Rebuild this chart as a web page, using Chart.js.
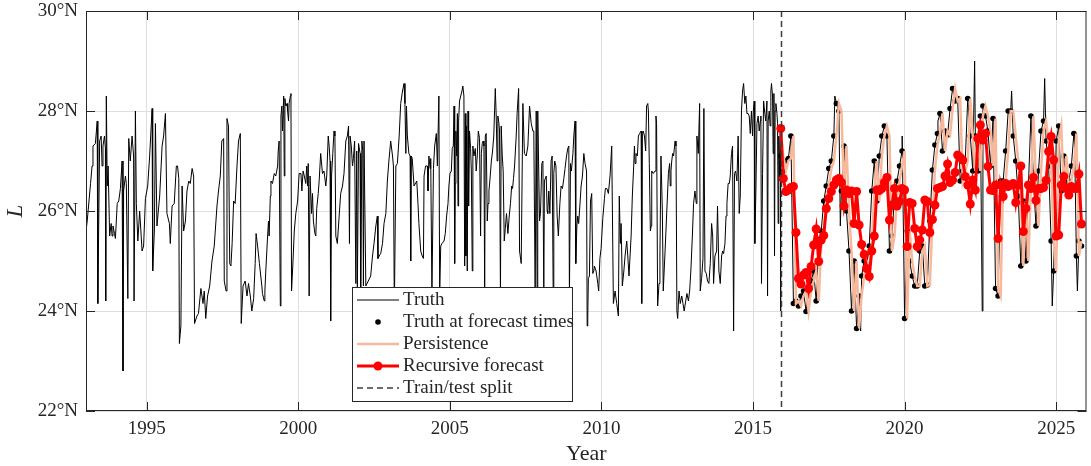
<!DOCTYPE html>
<html>
<head>
<meta charset="utf-8">
<script src="https://cdn.jsdelivr.net/npm/chart.js@4.4.1/dist/chart.umd.min.js"></script>
<style>
  html, body { margin: 0; padding: 0; background: #fff; }
  #wrap { width: 1091px; height: 466px; }
</style>
</head>
<body>
<div id="wrap"><canvas id="chart" width="1091" height="466"></canvas></div>
<script>
// ===== DATA =====
const xTicks = [1995, 2000, 2005, 2010, 2015, 2020, 2025];
const yTicks = [22, 24, 26, 28, 30];
const splitYear = 2015.92;
const fcStart = 2015.917;          // first forecast month, then monthly
const lastTrainTruth = 27.55;      // value persisted into the first forecast month

const legendLabels = ['Truth', 'Truth at forecast times', 'Persistence', 'Recursive forecast', 'Train/test split'];

const truthTrain = [
  [1993.00,25.6],[1993.04,25.8],[1993.15,26.55],[1993.20,26.9],[1993.23,27.3],[1993.31,27.35],[1993.37,27.8],[1993.39,24.15],
  [1993.45,27.4],[1993.50,27.5],[1993.53,26.9],[1993.56,27.3],[1993.61,27.5],[1993.64,27.25],[1993.65,24.2],[1993.67,28.3],
  [1993.70,26.5],[1993.73,26.9],[1993.78,25.5],[1993.83,25.75],[1993.86,25.5],[1993.89,25.7],[1993.94,25.55],[1993.97,25.45],
  [1994.03,26.15],[1994.08,26.2],[1994.135,26.45],[1994.19,27.0],[1994.22,22.8],[1994.24,26.4],[1994.30,26.7],[1994.33,26.55],
  [1994.38,24.25],[1994.41,27.45],[1994.46,27.0],[1994.52,27.5],[1994.57,27.1],[1994.585,24.2],[1994.63,28.0],[1994.66,26.15],
  [1994.71,25.4],[1994.77,26.0],[1994.85,25.2],[1994.90,25.3],[1994.96,26.25],[1995.035,26.5],[1995.10,27.1],[1995.18,28.05],
  [1995.20,24.8],[1995.255,25.6],[1995.29,27.75],[1995.34,25.7],[1995.43,26.3],[1995.51,27.3],[1995.56,27.5],[1995.62,27.95],
  [1995.67,25.95],[1995.75,25.75],[1995.78,25.35],[1995.84,26.1],[1995.91,26.15],[1995.98,26.9],[1996.02,26.9],[1996.06,26.65],
  [1996.08,23.35],[1996.13,23.7],[1996.17,26.5],[1996.22,25.6],[1996.28,25.8],[1996.33,26.4],[1996.39,26.6],[1996.44,26.55],
  [1996.50,26.85],[1996.55,26.7],[1996.58,23.75],[1996.66,23.9],[1996.71,23.95],[1996.79,24.45],[1996.86,24.15],[1996.90,24.4],
  [1996.95,23.85],[1997.01,24.3],[1997.08,24.5],[1997.155,25.0],[1997.23,25.3],[1997.32,26.1],[1997.37,26.4],[1997.43,26.7],
  [1997.48,27.4],[1997.54,27.45],[1997.56,24.6],[1997.62,24.4],[1997.65,27.85],[1997.70,27.7],[1997.74,24.95],[1997.78,24.9],
  [1997.82,25.35],[1997.87,26.2],[1997.92,26.15],[1997.98,26.9],[1998.03,27.4],[1998.09,27.55],[1998.12,23.75],[1998.18,24.5],
  [1998.25,24.6],[1998.31,24.3],[1998.36,24.55],[1998.42,24.3],[1998.47,24.0],[1998.53,24.25],[1998.58,24.95],[1998.61,25.55],
  [1998.66,25.3],[1998.72,24.95],[1998.80,24.5],[1998.82,24.35],[1998.88,24.2],[1998.90,24.4],[1998.93,24.8],[1998.99,25.5],
  [1999.02,25.8],[1999.04,25.5],[1999.08,26.3],[1999.10,26.6],[1999.15,26.55],[1999.21,26.75],[1999.26,26.7],[1999.32,26.9],
  [1999.34,27.2],[1999.37,27.4],[1999.41,24.1],[1999.43,27.9],[1999.46,28.1],[1999.48,27.6],[1999.52,28.3],[1999.54,26.7],
  [1999.56,28.25],[1999.59,28.1],[1999.63,28.15],[1999.65,28.0],[1999.68,27.8],[1999.70,28.15],[1999.74,28.3],[1999.76,28.35],
  [1999.78,24.4],[1999.82,24.9],[1999.87,25.6],[1999.92,25.95],[1999.98,26.2],[2000.03,26.75],[2000.09,26.75],[2000.12,26.4],
  [2000.16,26.8],[2000.20,26.7],[2000.25,26.55],[2000.28,26.9],[2000.31,26.5],[2000.33,26.95],[2000.36,24.3],[2000.39,26.7],
  [2000.44,25.95],[2000.47,26.35],[2000.50,25.8],[2000.55,25.55],[2000.58,25.5],[2000.61,26.05],[2000.66,26.35],[2000.69,26.6],
  [2000.74,27.15],[2000.80,26.75],[2000.85,26.8],[2000.91,26.5],[2000.94,26.7],[2000.99,27.5],[2001.02,27.3],[2001.05,27.0],
  [2001.07,23.8],[2001.10,26.7],[2001.14,27.15],[2001.18,27.6],[2001.21,27.5],[2001.24,25.5],[2001.29,25.35],[2001.35,25.9],
  [2001.40,26.35],[2001.46,26.5],[2001.51,26.75],[2001.57,27.4],[2001.62,27.5],[2001.66,27.7],[2001.69,25.35],[2001.71,27.5],
  [2001.75,27.3],[2001.79,26.9],[2001.82,27.05],[2001.86,27.4],[2001.90,24.55],[2001.93,27.2],[2001.95,24.4],[2001.99,27.35],
  [2002.04,27.15],[2002.06,24.3],[2002.10,27.4],[2002.13,27.2],[2002.15,24.5],[2002.17,27.4],[2002.23,24.5],[2002.39,24.7],
  [2002.45,25.1],[2002.50,25.35],[2002.56,25.7],[2002.61,25.9],[2002.63,25.05],[2002.67,25.1],[2002.72,25.15],[2002.78,25.35],
  [2002.83,25.75],[2002.89,25.95],[2002.94,26.6],[2002.99,27.0],[2003.05,27.4],[2003.11,27.1],[2003.14,26.9],[2003.17,24.0],
  [2003.22,26.9],[2003.27,26.95],[2003.33,27.5],[2003.38,28.15],[2003.44,28.4],[2003.49,28.55],[2003.52,28.15],[2003.55,27.15],
  [2003.57,28.1],[2003.60,27.5],[2003.65,27.15],[2003.69,27.1],[2003.71,25.0],[2003.73,27.1],[2003.76,27.05],[2003.82,26.5],
  [2003.91,26.6],[2003.95,26.15],[2003.98,25.75],[2004.04,25.2],[2004.09,25.1],[2004.13,25.05],[2004.15,26.7],[2004.20,26.9],
  [2004.26,26.9],[2004.28,26.4],[2004.31,27.1],[2004.35,26.85],[2004.37,27.05],[2004.41,24.3],[2004.46,26.85],[2004.50,27.3],
  [2004.555,27.55],[2004.59,26.9],[2004.64,28.3],[2004.665,24.3],[2004.70,25.3],[2004.74,25.35],[2004.81,25.4],[2004.85,25.55],
  [2004.895,25.9],[2004.94,26.15],[2004.97,26.5],[2005.005,26.75],[2005.05,26.8],[2005.08,27.25],[2005.115,27.3],[2005.14,28.1],
  [2005.16,24.95],[2005.18,26.55],[2005.20,27.6],[2005.225,27.1],[2005.25,27.95],[2005.27,26.1],[2005.29,27.8],[2005.32,28.2],
  [2005.36,28.3],[2005.40,28.4],[2005.43,28.5],[2005.465,28.3],[2005.49,24.9],[2005.51,27.95],[2005.53,25.1],[2005.55,27.7],
  [2005.575,24.8],[2005.60,28.0],[2005.62,26.1],[2005.65,27.6],[2005.685,27.25],[2005.71,26.8],[2005.74,24.8],[2005.76,27.3],
  [2005.795,27.1],[2005.84,27.25],[2005.87,26.8],[2005.905,27.1],[2005.94,27.6],[2005.98,27.45],[2006.015,25.5],[2006.04,27.15],
  [2006.07,27.35],[2006.10,27.4],[2006.125,27.3],[2006.15,24.3],[2006.17,27.5],[2006.20,27.55],[2006.235,25.8],[2006.26,26.15],
  [2006.29,26.4],[2006.32,26.6],[2006.37,27.0],[2006.41,27.2],[2006.45,27.5],[2006.50,28.45],[2006.53,27.9],[2006.56,27.0],
  [2006.585,27.9],[2006.62,27.75],[2006.64,27.6],[2006.67,24.3],[2006.695,27.7],[2006.73,27.1],[2006.76,26.8],[2006.795,25.4],
  [2006.83,25.65],[2006.87,25.95],[2006.915,25.55],[2006.96,25.9],[2007.00,26.15],[2007.04,26.5],[2007.07,26.45],[2007.10,26.65],
  [2007.135,26.9],[2007.19,27.5],[2007.22,27.95],[2007.27,28.45],[2007.30,25.2],[2007.355,24.95],[2007.41,28.15],[2007.46,27.15],
  [2007.52,27.1],[2007.575,27.3],[2007.63,28.1],[2007.685,27.75],[2007.74,27.6],[2007.77,27.6],[2007.815,24.3],[2007.85,28.0],
  [2007.88,24.3],[2007.90,28.0],[2007.96,25.8],[2007.99,25.95],[2008.035,26.95],[2008.07,27.0],[2008.10,24.3],[2008.12,26.6],
  [2008.18,26.7],[2008.21,26.0],[2008.23,25.95],[2008.265,26.4],[2008.30,25.95],[2008.34,27.0],[2008.375,27.1],[2008.41,24.3],
  [2008.43,26.75],[2008.46,27.0],[2008.50,26.9],[2008.54,25.9],[2008.58,25.5],[2008.63,26.15],[2008.67,26.5],[2008.715,26.45],
  [2008.76,26.65],[2008.80,26.85],[2008.85,27.1],[2008.89,27.25],[2008.925,27.3],[2008.945,24.3],[2008.98,26.95],[2009.01,26.8],
  [2009.06,27.15],[2009.09,27.5],[2009.13,27.8],[2009.155,24.95],[2009.19,25.7],[2009.22,25.9],[2009.25,25.75],[2009.30,26.2],
  [2009.33,26.5],[2009.375,26.7],[2009.42,27.15],[2009.46,26.95],[2009.51,26.8],[2009.53,23.7],[2009.55,23.9],[2009.57,24.65],
  [2009.605,24.7],[2009.64,26.2],[2009.68,26.35],[2009.715,24.75],[2009.75,24.8],[2009.77,24.9],[2009.825,24.8],[2009.88,24.55],
  [2009.91,24.4],[2009.95,25.05],[2009.99,25.25],[2010.045,25.85],[2010.10,26.25],[2010.13,26.45],[2010.18,26.45],[2010.23,26.35],
  [2010.285,26.7],[2010.34,27.3],[2010.395,24.15],[2010.45,24.4],[2010.505,24.15],[2010.56,23.9],[2010.59,26.3],[2010.625,25.35],
  [2010.65,25.75],[2010.69,24.5],[2010.74,24.8],[2010.78,25.1],[2010.835,25.4],[2010.87,25.1],[2010.91,24.7],[2010.945,25.1],
  [2010.98,25.5],[2011.02,26.3],[2011.065,26.9],[2011.09,27.3],[2011.11,26.95],[2011.14,27.15],[2011.185,27.1],[2011.22,27.5],
  [2011.26,27.55],[2011.31,27.6],[2011.33,24.15],[2011.35,27.55],[2011.38,27.6],[2011.42,27.5],[2011.46,27.2],[2011.49,28.1],
  [2011.53,28.15],[2011.55,28.0],[2011.58,26.95],[2011.615,25.6],[2011.64,25.7],[2011.66,26.8],[2011.71,26.75],[2011.77,26.8],
  [2011.80,27.9],[2011.82,27.75],[2011.855,24.1],[2011.90,24.55],[2011.93,25.1],[2011.965,27.1],[2012.01,26.0],[2012.04,24.4],
  [2012.10,25.2],[2012.15,25.9],[2012.21,26.75],[2012.25,26.95],[2012.27,26.5],[2012.295,26.8],[2012.32,27.0],[2012.35,27.15],
  [2012.38,27.1],[2012.43,27.4],[2012.46,27.3],[2012.49,24.0],[2012.515,23.85],[2012.56,24.4],[2012.60,24.15],[2012.65,24.3],
  [2012.69,24.15],[2012.73,24.0],[2012.78,24.2],[2012.82,24.35],[2012.87,24.2],[2012.91,24.4],[2012.95,24.8],[2013.00,25.5],
  [2013.04,26.15],[2013.085,26.4],[2013.13,26.15],[2013.15,27.5],[2013.195,27.15],[2013.24,28.15],[2013.26,24.4],[2013.305,24.65],
  [2013.35,25.05],[2013.38,28.05],[2013.415,24.8],[2013.46,24.75],[2013.50,24.6],[2013.545,24.55],[2013.59,24.95],[2013.635,25.75],
  [2013.67,25.5],[2013.70,24.55],[2013.745,25.1],[2013.80,25.2],[2013.83,26.1],[2013.875,24.8],[2013.92,24.55],[2013.965,25.1],
  [2014.00,25.2],[2014.03,25.15],[2014.075,25.35],[2014.11,25.9],[2014.14,26.15],[2014.18,26.55],[2014.22,26.55],[2014.25,26.7],
  [2014.29,27.15],[2014.325,27.3],[2014.36,23.6],[2014.39,26.75],[2014.425,26.8],[2014.47,26.6],[2014.51,27.5],[2014.545,25.95],
  [2014.58,26.3],[2014.62,28.0],[2014.655,28.4],[2014.69,28.55],[2014.73,28.15],[2014.765,28.3],[2014.80,27.95],[2014.84,27.95],
  [2014.875,27.9],[2014.91,27.55],[2014.95,28.0],[2014.985,27.5],[2015.01,28.0],[2015.04,28.2],[2015.06,25.35],[2015.095,26.4],
  [2015.13,27.75],[2015.17,27.9],[2015.205,27.6],[2015.24,27.8],[2015.26,27.9],[2015.28,24.55],[2015.315,26.75],[2015.35,28.2],
  [2015.39,27.95],[2015.42,27.8],[2015.46,28.2],[2015.48,24.3],[2015.50,27.8],[2015.535,28.0],[2015.565,27.7],[2015.59,28.4],
  [2015.61,28.55],[2015.645,28.3],[2015.665,27.15],[2015.69,28.35],[2015.71,25.1],[2015.73,28.0],[2015.755,28.15],[2015.79,27.95],
  [2015.81,27.75],[2015.83,25.75],[2015.85,27.5],[2015.875,26.6],[2015.90,27.6],[2015.91,24.0]
];

// truth sampled at the monthly forecast times (test period)
const truthAtFc = [
  27.1, 26.8, 27.0, 27.05, 27.5, 24.15, 24.2, 24.1, 24.3, 24.4,
  23.99, 24.4, 24.6, 24.8, 24.2, 25.3, 25.6, 26.2, 26.5, 26.85,
  27.0, 27.5, 28.15, 28.0, 26.4, 27.3, 26.0, 25.2, 24.0, 25.0,
  23.65, 24.3, 24.7, 25.0, 24.9, 25.3, 26.4, 27.0, 26.2, 27.1,
  27.5, 27.7, 27.5, 25.2, 25.5, 26.3, 26.6, 26.9, 27.2, 23.85,
  25.6, 25.0, 24.7, 24.5, 24.5, 25.2, 25.3, 24.5, 24.52, 25.8,
  26.82, 27.32, 27.55, 27.95, 27.2, 27.6, 27.52, 28.05, 28.45, 28.2,
  28.25, 26.6, 26.8, 27.0, 28.25, 27.5, 26.8, 27.5, 26.8, 27.9,
  28.1, 27.9, 27.6, 26.9, 27.85, 24.45, 24.3, 26.6, 26.6, 27.2,
  28.0, 28.0, 27.5, 27.0, 26.3, 24.9, 26.2, 25.0, 26.5, 27.9,
  26.6, 25.7, 26.8, 27.6, 27.8, 27.4, 26.9, 25.4, 24.8, 27.4,
  27.7, 26.4, 27.1, 26.5, 26.6, 26.9, 27.55, 25.1, 25.4, 25.3
];

// short spikes of the truth between forecast months
const truthSpikes = [
  [2017.70, 28.3], [2017.88, 25.7], [2018.55, 23.6], [2019.92, 27.5], [2021.10, 27.8],
  [2022.31, 29.0], [2022.56, 24.0], [2023.53, 28.4], [2024.62, 28.65], [2024.87, 24.1],
  [2025.60, 27.6], [2025.70, 24.4]
];

// recursive forecast, one value per forecast month
const recursiveFc = [
  27.65, 26.65, 26.39, 26.42, 26.47, 26.49, 25.57, 24.65, 24.54, 24.72,
  24.77, 24.45, 24.89, 25.32, 25.64, 24.99, 25.42, 25.51, 26.05, 26.25,
  26.39, 26.52, 26.62, 26.65, 26.57, 26.1, 26.42, 26.35, 26.4, 25.75,
  26.39, 25.72, 25.33, 25.13, 24.85, 24.69, 25.2, 25.5, 26.42, 26.41,
  26.45, 26.57, 26.67, 25.82, 26.12, 26.45, 26.1, 26.19, 26.45, 26.42,
  25.29, 26.17, 26.15, 25.65, 25.29, 25.42, 25.62, 26.22, 26.19, 25.57,
  25.83, 26.12, 26.45, 26.47, 26.49, 26.7, 26.94, 26.57, 26.62, 26.77,
  27.12, 27.07, 27.02, 26.69, 26.52, 26.14, 26.62, 26.42, 27.45, 27.72,
  27.42, 27.55, 26.89, 26.42, 26.41, 26.52, 25.45, 26.52, 26.29, 26.55,
  26.49, 26.52, 26.55, 26.17, 26.52, 26.9, 25.59, 26.05, 26.52, 26.45,
  26.67, 26.21, 26.45, 26.45, 26.47, 26.61, 27.19, 27.49, 27.02, 25.5,
  25.52, 26.52, 26.69, 26.45, 26.32, 26.49, 26.45, 26.45, 26.74, 25.74
];

// ===== BUILD SERIES =====
const fcYears = truthAtFc.map((_, i) => fcStart + i / 12);
const dotPts = fcYears.map((t, i) => ({ x: t, y: truthAtFc[i] }));
const truthPts = truthTrain.map(([t, v]) => ({ x: t, y: v }))
  .concat(dotPts, truthSpikes.map(([t, v]) => ({ x: t, y: v })))
  .sort((a, b) => a.x - b.x);
const persistence = [lastTrainTruth].concat(truthAtFc.slice(0, -1));
const persPts = fcYears.map((t, i) => ({ x: t, y: persistence[i] }));
const recPts = fcYears.map((t, i) => ({ x: t, y: recursiveFc[i] }));

// ===== STYLE =====
const axisColor = '#262626';
const gridColor = '#dedede';
const persColor = '#f8b89c';
const fontFamily = "'Liberation Serif', 'Times New Roman', serif";

// no extra label overflow padding: chart area is set by layout padding only
const noPad = s => { s.paddingTop = 0; s.paddingBottom = 0; s.paddingLeft = 0; s.paddingRight = 0; };

// frame, inward ticks, split line, axis titles and legend (MATLAB-like box)
const boxPlugin = {
  id: 'matlabBox',
  afterDatasetsDraw(chart) {
    const { ctx, chartArea: a, scales: { x, y } } = chart;
    const seg = (x1, y1, x2, y2) => { ctx.beginPath(); ctx.moveTo(x1, y1); ctx.lineTo(x2, y2); ctx.stroke(); };
    ctx.save();

    // train/test split
    const sx = Math.round(x.getPixelForValue(splitYear)) + 0.5;
    ctx.strokeStyle = '#3c3c3c';
    ctx.lineWidth = 1.5;
    ctx.setLineDash([6, 4]);
    seg(sx, a.top, sx, a.bottom);
    ctx.setLineDash([]);

    // frame + ticks
    ctx.strokeStyle = axisColor;
    ctx.lineWidth = 1;
    ctx.strokeRect(a.left + 0.5, a.top + 0.5, a.right - a.left - 1, a.bottom - a.top - 1);
    const tl = 9;
    xTicks.forEach(v => {
      const px = Math.round(x.getPixelForValue(v)) + 0.5;
      seg(px, a.bottom, px, a.bottom - tl);
      seg(px, a.top, px, a.top + tl);
    });
    yTicks.forEach(v => {
      const py = Math.round(y.getPixelForValue(v)) + 0.5;
      seg(a.left, py, a.left + tl, py);
      seg(a.right, py, a.right - tl, py);
    });

    // axis titles
    ctx.fillStyle = axisColor;
    ctx.font = `22px ${fontFamily}`;
    ctx.textAlign = 'center';
    ctx.textBaseline = 'middle';
    ctx.fillText('Year', (a.left + a.right) / 2, 454);
    ctx.save();
    ctx.translate(16, (a.top + a.bottom) / 2);
    ctx.rotate(-Math.PI / 2);
    ctx.font = `italic 23px ${fontFamily}`;
    ctx.fillText('L', 0, 0);
    ctx.restore();

    // legend
    const lx = 352, ly = 287, lw = 220, lh = 114;
    ctx.fillStyle = '#fff';
    ctx.fillRect(lx, ly, lw, lh);
    ctx.strokeStyle = axisColor;
    ctx.strokeRect(lx + 0.5, ly + 0.5, lw, lh);
    const rowY = [300, 322, 344, 366, 388];
    const s1 = 357, s2 = 399, sm = 378;
    // Truth
    ctx.strokeStyle = '#000'; ctx.lineWidth = 1;
    seg(s1, rowY[0], s2, rowY[0]);
    // Truth at forecast times
    ctx.fillStyle = '#000';
    ctx.beginPath(); ctx.arc(sm, rowY[1], 2.8, 0, Math.PI * 2); ctx.fill();
    // Persistence
    ctx.strokeStyle = persColor; ctx.lineWidth = 2.5;
    seg(s1, rowY[2], s2, rowY[2]);
    // Recursive forecast
    ctx.strokeStyle = '#ff0000'; ctx.lineWidth = 3;
    seg(s1, rowY[3], s2, rowY[3]);
    ctx.fillStyle = '#ff0000';
    ctx.beginPath(); ctx.arc(sm, rowY[3], 4.5, 0, Math.PI * 2); ctx.fill();
    // Train/test split
    ctx.strokeStyle = '#3c3c3c'; ctx.lineWidth = 1.5;
    ctx.setLineDash([6, 4]);
    seg(s1, rowY[4], s2, rowY[4]);
    ctx.setLineDash([]);

    ctx.fillStyle = axisColor;
    ctx.font = `19px ${fontFamily}`;
    ctx.textAlign = 'left';
    legendLabels.forEach((lab, i) => ctx.fillText(lab, 403, rowY[i]));

    ctx.restore();
  }
};

new Chart(document.getElementById('chart'), {
  type: 'line',
  data: {
    datasets: [
      {
        label: 'Recursive forecast', data: recPts, order: 1,
        borderColor: '#ff0000', backgroundColor: '#ff0000', borderWidth: 3,
        pointRadius: 4.5, pointBorderWidth: 0, pointBackgroundColor: '#ff0000'
      },
      {
        label: 'Persistence', data: persPts, order: 2,
        borderColor: persColor, borderWidth: 2.5, pointRadius: 0
      },
      {
        label: 'Truth at forecast times', data: dotPts, order: 3, showLine: false,
        pointRadius: 2.8, pointBorderWidth: 0, pointBackgroundColor: '#000'
      },
      {
        label: 'Truth', data: truthPts, order: 4,
        borderColor: '#000', borderWidth: 1, pointRadius: 0
      }
    ]
  },
  options: {
    responsive: false,
    animation: false,
    layout: { padding: { top: 11, right: 3, left: 0, bottom: 0 } },
    elements: { line: { tension: 0 } },
    plugins: { legend: { display: false }, tooltip: { enabled: false } },
    scales: {
      x: {
        type: 'linear', min: 1993, max: 2026,
        afterBuildTicks: s => { s.ticks = xTicks.map(v => ({ value: v })); },
        afterFit: s => { s.height = 55; noPad(s); },
        grid: { color: gridColor, drawTicks: false },
        border: { display: false },
        ticks: {
          color: axisColor, padding: 7, maxRotation: 0, autoSkip: false,
          font: { family: fontFamily, size: 19 },
          callback: v => String(v)
        }
      },
      y: {
        type: 'linear', min: 22, max: 30,
        afterBuildTicks: s => { s.ticks = yTicks.map(v => ({ value: v })); },
        afterFit: s => { s.width = 86; noPad(s); },
        grid: { color: gridColor, drawTicks: false },
        border: { display: false },
        ticks: {
          color: axisColor, padding: 8, autoSkip: false,
          font: { family: fontFamily, size: 19 },
          callback: v => v + '°N'
        }
      }
    }
  },
  plugins: [boxPlugin]
});
</script>
</body>
</html>
